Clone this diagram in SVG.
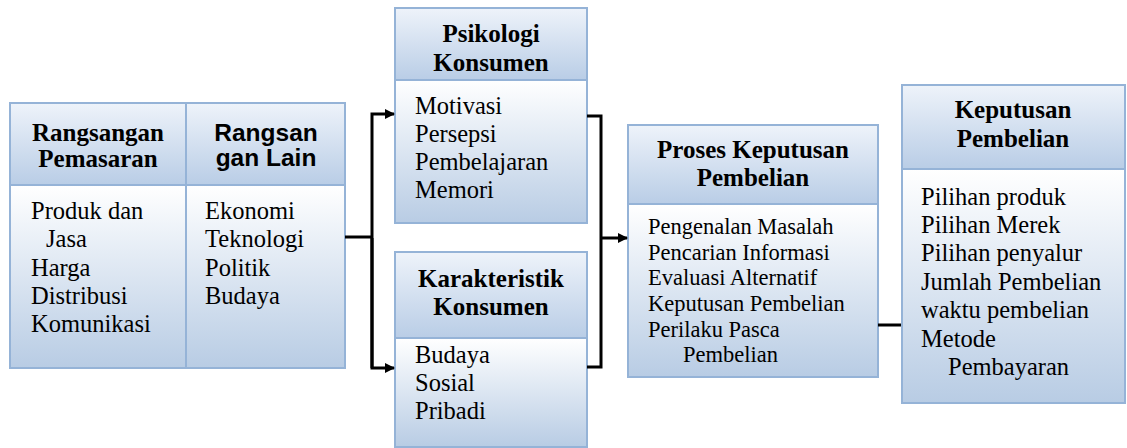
<svg xmlns="http://www.w3.org/2000/svg" width="1127" height="448" viewBox="0 0 1127 448">
<defs>
<linearGradient id="gh" x1="0" y1="0" x2="0" y2="1">
<stop offset="0" stop-color="#eef3fa"/>
<stop offset="1" stop-color="#b9cde6"/>
</linearGradient>
<linearGradient id="gb" x1="0" y1="0" x2="0" y2="1">
<stop offset="0" stop-color="#ffffff"/>
<stop offset="1" stop-color="#b8cce4"/>
</linearGradient>
<marker id="arr" markerWidth="10" markerHeight="10" refX="9" refY="5" orient="auto" markerUnits="userSpaceOnUse">
<path d="M0,0 L10,5 L0,10 Z" fill="#000"/>
</marker>
</defs>
<style>
.hd{fill:url(#gh);stroke:#95b3d7;stroke-width:2}
.bd{fill:url(#gb);stroke:#95b3d7;stroke-width:2}
.ht{font-family:'Liberation Serif','Times New Roman',serif;font-weight:bold;font-size:25px;fill:#000;text-anchor:middle}
.hs{font-family:'Liberation Sans',Arial,sans-serif;font-weight:bold;font-size:24.5px;fill:#000;text-anchor:middle}
.t{font-family:'Liberation Serif','Times New Roman',serif;font-size:24.5px;fill:#000}
.ts{font-family:'Liberation Serif','Times New Roman',serif;font-size:22.5px;fill:#000}
.c{fill:none;stroke:#000;stroke-width:3}
</style>
<g id="rangsangan">
<rect class="bd" x="10" y="185" width="176" height="183"/>
<rect class="bd" x="186" y="185" width="159" height="183"/>
<rect class="hd" x="10" y="103" width="176" height="82"/>
<rect class="hd" x="186" y="103" width="159" height="82"/>
<text class="ht" x="98" y="141">Rangsangan</text>
<text class="ht" x="98" y="167">Pemasaran</text>
<text class="hs" x="266" y="141">Rangsan</text>
<text class="hs" x="266" y="166">gan Lain</text>
<text class="t" x="31" y="219">Produk dan</text>
<text class="t" x="46" y="247">Jasa</text>
<text class="t" x="31" y="276">Harga</text>
<text class="t" x="31" y="304">Distribusi</text>
<text class="t" x="31" y="332">Komunikasi</text>
<text class="t" x="205" y="219">Ekonomi</text>
<text class="t" x="205" y="247">Teknologi</text>
<text class="t" x="205" y="276">Politik</text>
<text class="t" x="205" y="304">Budaya</text>
</g>
<g id="psikologi">
<rect class="bd" x="395" y="80" width="192" height="143"/>
<rect class="hd" x="395" y="8" width="192" height="72"/>
<text class="ht" x="491" y="42">Psikologi</text>
<text class="ht" x="491" y="71">Konsumen</text>
<text class="t" x="415" y="114">Motivasi</text>
<text class="t" x="415" y="142">Persepsi</text>
<text class="t" x="415" y="170">Pembelajaran</text>
<text class="t" x="415" y="198">Memori</text>
</g>
<g id="karakteristik">
<rect class="bd" x="395" y="338" width="192" height="109"/>
<rect class="hd" x="395" y="252" width="192" height="86"/>
<text class="ht" x="491" y="287">Karakteristik</text>
<text class="ht" x="491" y="315">Konsumen</text>
<text class="t" x="415" y="363">Budaya</text>
<text class="t" x="415" y="391">Sosial</text>
<text class="t" x="415" y="419">Pribadi</text>
</g>
<g id="proses">
<rect class="bd" x="628" y="204" width="250" height="173"/>
<rect class="hd" x="628" y="125" width="250" height="79"/>
<text class="ht" x="753" y="158">Proses Keputusan</text>
<text class="ht" x="753" y="186">Pembelian</text>
<text class="ts" x="648" y="234">Pengenalan Masalah</text>
<text class="ts" x="648" y="260">Pencarian Informasi</text>
<text class="ts" x="648" y="285">Evaluasi Alternatif</text>
<text class="ts" x="648" y="311">Keputusan Pembelian</text>
<text class="ts" x="648" y="337">Perilaku Pasca</text>
<text class="ts" x="683" y="362">Pembelian</text>
</g>
<g id="keputusan">
<rect class="bd" x="902" y="169" width="223" height="234"/>
<rect class="hd" x="902" y="85" width="223" height="84"/>
<text class="ht" x="1013" y="118">Keputusan</text>
<text class="ht" x="1013" y="147">Pembelian</text>
<text class="t" x="921" y="205">Pilihan produk</text>
<text class="t" x="921" y="233">Pilihan Merek</text>
<text class="t" x="921" y="261">Pilihan penyalur</text>
<text class="t" x="921" y="290">Jumlah Pembelian</text>
<text class="t" x="921" y="318">waktu pembelian</text>
<text class="t" x="921" y="347">Metode</text>
<text class="t" x="948" y="375">Pembayaran</text>
</g>
<g id="connectors">
<path class="c" d="M345,237 H372"/>
<path class="c" d="M372,368 V114 H394" marker-end="url(#arr)"/>
<path class="c" d="M372,238 V368 H394" marker-end="url(#arr)"/>
<path class="c" d="M587,116 H601 V367 H587"/>
<path class="c" d="M601,238 H627" marker-end="url(#arr)"/>
<path class="c" d="M878,325 H901"/>
</g>
</svg>
